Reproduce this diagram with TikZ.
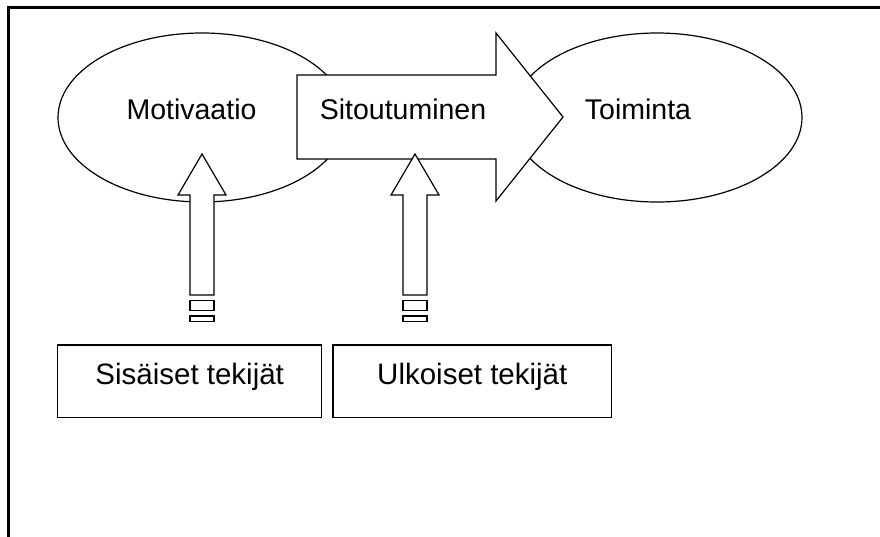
\documentclass[tikz,border=0pt]{standalone}
\usepackage{fontspec}
\setmainfont{Liberation Sans}
\usetikzlibrary{shapes.geometric}

\tikzset{
  outline/.style={draw=black, line width=1.2pt, fill=white, line join=miter},
  bubble/.style={ellipse, outline, inner sep=0pt, minimum height=169pt},
  factorbox/.style={rectangle, outline, line width=1.5pt, inner sep=0pt, minimum height=72.5pt},
  toplabel/.style={anchor=base, inner sep=0pt, font=\fontsize{28.5}{34}\selectfont},
  boxlabel/.style={anchor=base, inner sep=0pt, font=\fontsize{29.5}{35}\selectfont},
  blockup/.pic={
    \draw[outline] (0,0) -- (24,41) -- (12,41) -- (12,141) -- (-12,141)
      -- (-12,41) -- (-24,41) -- cycle;
    \draw[outline] (-12,146.7) rectangle (12,156.7);
    \draw[outline] (-12,162) rectangle (12,167.7);
  }
}

\begin{document}
\begin{tikzpicture}[x=1pt, y=-1pt]
  \useasboundingbox (0,0) rectangle (880,536);
  \fill[white] (0,0) rectangle (880,536);

  % page frame (open to the right and bottom)
  \draw[line width=2.2pt] (8.5,540) -- (8.5,7.5) -- (884,7.5);

  % the two ellipses
  \node[bubble, minimum width=288pt] (motivation) at (202,117.5) {};
  \node[bubble, minimum width=290pt] (action) at (657,117.5) {};

  % block arrow carrying commitment
  \draw[outline] (297,75) -- (496,75) -- (496,33) -- (563,117)
    -- (496,201) -- (496,159) -- (297,159) -- cycle;

  % labels
  \node[toplabel] (motlabel) at (191.5,119) {Motivaatio};
  \node[toplabel] (commitlabel) at (403,119) {Sitoutuminen};
  \node[toplabel] (actlabel) at (638,119) {Toiminta};

  % factor boxes
  \node[factorbox, minimum width=264pt] (inner) at (189.7,381.2) {};
  \node[factorbox, minimum width=278.7pt] (outer) at (472.3,381.2) {};
  \node[boxlabel] (innerlabel) at (189.7,384) {Sisäiset tekijät};
  \node[boxlabel] (outerlabel) at (472.3,384) {Ulkoiset tekijät};

  % upward block arrows
  \pic at (202,154) {blockup};
  \pic at (415,154) {blockup};
\end{tikzpicture}
\end{document}
